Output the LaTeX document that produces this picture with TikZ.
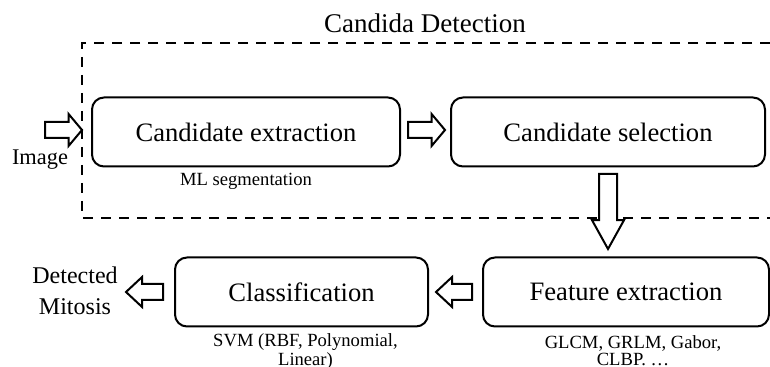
\documentclass[tikz,border=0pt]{standalone}
\usepackage{fontspec}
\setmainfont{Liberation Serif}
\usetikzlibrary{shapes.arrows, positioning, calc}
\tikzset{
    stage/.style={rectangle, rounded corners=6pt, draw=black, line width=1pt, minimum height=34.5pt, align=center, font=\fontsize{13.3}{15}\selectfont},
    note/.style={align=center, inner sep=0pt, font=\fontsize{9.3}{8.1}\selectfont},
    fatarrow/.style={single arrow, anchor=tail, draw=black, line width=1pt, fill=white, inner sep=3.5pt, minimum width=15pt, minimum height=18.5pt, single arrow head extend=4pt, single arrow tip angle=100},
    detframe/.style={dash pattern=on 5pt off 4pt, line width=1pt},
}

\begin{document}
\begin{tikzpicture}[x=0.5pt, y=-0.5pt]
    \useasboundingbox (0,0) rectangle (770,367);
    % detection stage frame
    \draw[detframe] (770,43) -- (82,43) -- (82,218) -- (770,218);
    \node[anchor=base, font=\fontsize{13.5}{15}\selectfont] (dettitle) at (425,33) {Candida Detection};
    % stages
    \node[stage, minimum width=154pt] (extract) at (246,132) {Candidate extraction};
    \node[stage, minimum width=157pt] (select)  at (608,132) {Candidate selection};
    \node[stage, minimum width=143pt] (feature) at (626,292) {Feature extraction};
    \node[stage, minimum width=126.5pt] (classif) at (301.5,292) {Classification};
    % notes under the stages
    \node[note, below=2.5pt of extract.south] (mlnote) {ML segmentation};
    \node[note, below=4pt of feature.south, xshift=3.5pt] (featnote) {GLCM, GRLM, Gabor,\\CLBP. \ldots};
    \node[note, below=3pt of classif.south, xshift=2pt] (svmnote) {SVM (RBF, Polynomial,\\Linear)};
    % input and output
    \node[anchor=base, font=\fontsize{11.2}{13}\selectfont] (image) at (40,165) {Image};
    \node[anchor=north, align=center, inner sep=0pt, font=\fontsize{12}{15.5}\selectfont] (mitosis) at (75,266) {Detected\\Mitosis};
    % block arrows
    \node[fatarrow] (arrin) at ($(extract.west)+(-47,-2)$) {};
    \node[fatarrow, minimum width=16pt] (arr1) at ($(extract.east)+(6,-2)$) {};
    \node[fatarrow, shape border rotate=270, inner sep=4pt, minimum width=15pt, minimum height=37.5pt, single arrow tip angle=58, single arrow head extend=3.5pt] (arr2) at ($(select.south)+(0,5.5)$) {};
    \node[fatarrow, shape border rotate=180, minimum width=14pt, minimum height=18pt, single arrow head extend=3.5pt, single arrow tip angle=86] (arr3) at ($(feature.west)+(-9,0)$) {};
    \node[fatarrow, shape border rotate=180, minimum width=14pt, single arrow head extend=3.5pt, single arrow tip angle=86] (arrout) at ($(classif.west)+(-10,0)$) {};
\end{tikzpicture}
\end{document}
